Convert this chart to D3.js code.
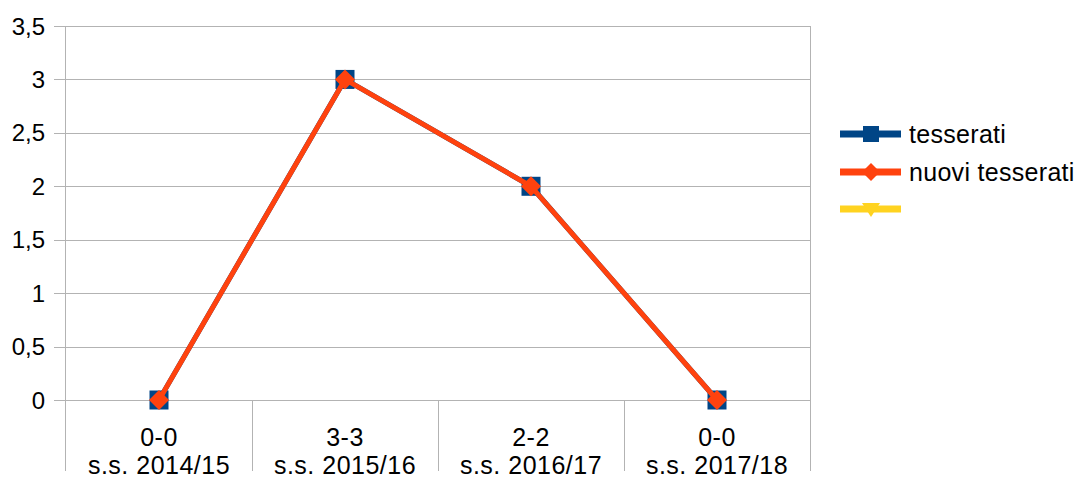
<!DOCTYPE html>
<html>
<head>
<meta charset="utf-8">
<script src="https://cdn.jsdelivr.net/npm/d3@7"></script>
<style>
body{margin:0;background:#fff;}
text{font-family:"Liberation Sans",Arial,sans-serif;fill:#000;}
</style>
</head>
<body>
<div id="chart"></div>
<script>
var categories=[["0-0","s.s. 2014/15"],["3-3","s.s. 2015/16"],["2-2","s.s. 2016/17"],["0-0","s.s. 2017/18"]];
var tesserati=[0,3,2,0];
var nuoviTesserati=[0,3,2,0];
var yTicks=[0,0.5,1,1.5,2,2.5,3,3.5];
var seriesNames=["tesserati","nuovi tesserati",""];
var seriesColors=["#004586","#ff420e","#ffd320"];

var width=1077,height=478;
var plotLeft=66,plotRight=810,plotTop=26,plotBottom=400;

var svg=d3.select("#chart").append("svg")
  .attr("width",width).attr("height",height);

var x=d3.scaleBand().domain(d3.range(categories.length)).range([plotLeft,plotRight]);
var y=d3.scaleLinear().domain([0,3.5]).range([plotBottom,plotTop]);

// grid
svg.selectAll(".grid").data(yTicks).enter().append("line")
  .attr("x1",plotLeft-12).attr("x2",plotRight)
  .attr("y1",function(d){return Math.round(y(d))+0.5;})
  .attr("y2",function(d){return Math.round(y(d))+0.5;})
  .attr("stroke","#b3b3b3").attr("stroke-width",1);

// verticals: axis, separators, right edge
svg.append("line").attr("x1",plotLeft-0.5).attr("x2",plotLeft-0.5).attr("y1",plotTop).attr("y2",471)
  .attr("stroke","#b3b3b3");
svg.append("line").attr("x1",plotRight+0.5).attr("x2",plotRight+0.5).attr("y1",plotTop).attr("y2",471)
  .attr("stroke","#b3b3b3");
svg.selectAll(".sep").data(d3.range(1,categories.length)).enter().append("line")
  .attr("x1",function(d){return Math.round(x(d))+0.5;})
  .attr("x2",function(d){return Math.round(x(d))+0.5;})
  .attr("y1",plotBottom).attr("y2",471)
  .attr("stroke","#b3b3b3");

// y labels
svg.selectAll(".ylab").data(yTicks).enter().append("text")
  .attr("x",45).attr("y",function(d){return y(d)+8.5;})
  .attr("text-anchor","end").attr("font-size",24)
  .text(function(d){return String(d).replace(".",",");});

// x labels
categories.forEach(function(c,i){
  var cx=x(i)+x.bandwidth()/2;
  svg.append("text").attr("x",cx).attr("y",446).attr("text-anchor","middle")
    .attr("font-size",25).attr("letter-spacing",0.5).text(c[0]);
  svg.append("text").attr("x",cx).attr("y",474).attr("text-anchor","middle")
    .attr("font-size",25).attr("letter-spacing",0.5).text(c[1]);
});

var cx=function(d,i){return x(i)+x.bandwidth()/2;};
var line=d3.line().x(cx).y(function(d){return y(d);});

// tesserati
svg.append("path").datum(tesserati).attr("d",line)
  .attr("fill","none").attr("stroke",seriesColors[0]).attr("stroke-width",5);
svg.selectAll(".sq").data(tesserati).enter().append("rect")
  .attr("x",function(d,i){return cx(d,i)-9.5;})
  .attr("y",function(d){return y(d)-9.5;})
  .attr("width",19).attr("height",19).attr("fill",seriesColors[0]);

// nuovi tesserati
svg.append("path").datum(nuoviTesserati).attr("d",line)
  .attr("fill","none").attr("stroke",seriesColors[1]).attr("stroke-width",5)
  .attr("stroke-linejoin","round");
svg.selectAll(".dia").data(nuoviTesserati).enter().append("path")
  .attr("d","M0,-10L10,0L0,10L-10,0Z")
  .attr("transform",function(d,i){return "translate("+cx(d,i)+","+y(d)+")";})
  .attr("fill",seriesColors[1]);

// legend
var ly=[134,172,209];
var leg=svg.selectAll(".leg").data(seriesNames).enter().append("g")
  .attr("transform",function(d,i){return "translate(840,"+ly[i]+")";});
leg.append("line").attr("x1",0).attr("x2",61).attr("y1",0).attr("y2",0)
  .attr("stroke",function(d,i){return seriesColors[i];}).attr("stroke-width",7);
leg.append("path")
  .attr("d",function(d,i){
    if(i==0) return "M-8,-8H8V8H-8Z";
    if(i==1) return "M0,-9L9,0L0,9L-9,0Z";
    return "M-9,-6H9L0,8Z";
  })
  .attr("transform","translate(31,0)")
  .attr("fill",function(d,i){return seriesColors[i];});
leg.append("text").attr("x",69).attr("y",9).attr("font-size",25)
  .attr("letter-spacing",0.3)
  .text(function(d){return d;});
</script>
</body>
</html>
